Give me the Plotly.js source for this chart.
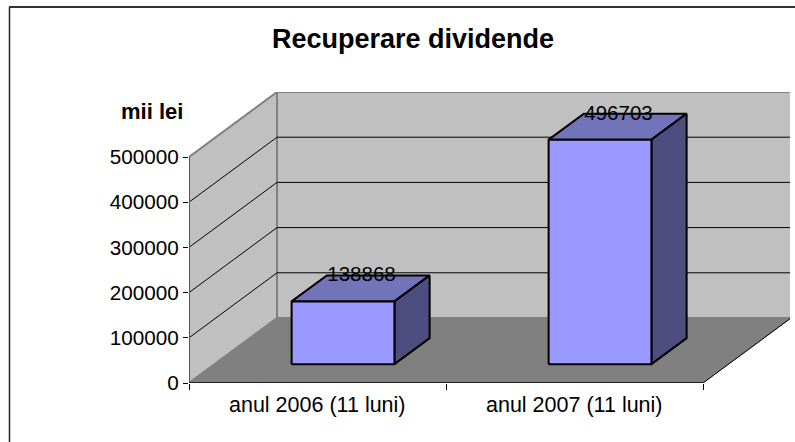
<!DOCTYPE html>
<html><head><meta charset="utf-8">
<script src="https://cdn.plot.ly/plotly-3.0.1.min.js"></script>
<style>html,body{margin:0;padding:0;background:#fff}</style></head>
<body><div id="c" style="width:795px;height:442px"></div>
<script>
// Data
const categories = ['anul 2006 (11 luni)', 'anul 2007 (11 luni)'];
const values = [138868, 496703];
const yTicks = [0, 100000, 200000, 300000, 400000, 500000];
const chartTitle = 'Recuperare dividende';
const unitLabel = 'mii lei';

// Oblique projection expressed in axis units
const W = 795, H = 442;
const px = {l: 189, r: 790, t: 92, b: 383, floorR: 703, backL: 277, backB: 318};
const unitsPerPxX = 2 / (px.floorR - px.l);
const unitsPerPxY = 500000 / (px.b - 157);
const depthX = (px.backL - px.l) * unitsPerPxX;
const depthY = (px.b - px.backB) * unitsPerPxY;
const xMax = (px.r - px.l) * unitsPerPxX;
const yMax = (px.b - px.t) * unitsPerPxY;
const wallTop = 500000;
const FONT = 'Liberation Sans, Arial, sans-serif';
const P = (c, v, d) => [c + d * depthX, v + d * depthY];
function poly(pts, fill, lineColor, lineWidth) {
  const xy = pts.concat([pts[0]]);
  return {type:'scatter', mode:'lines', x:xy.map(p=>p[0]), y:xy.map(p=>p[1]), fill:'toself',
    fillcolor:fill, line:{color:lineColor, width:lineWidth}, hoverinfo:'skip', showlegend:false, cliponaxis:false};
}
function seg(a, b, color, width) {
  return {type:'scatter', mode:'lines', x:[a[0],b[0]], y:[a[1],b[1]], line:{color, width},
    hoverinfo:'skip', showlegend:false, cliponaxis:false};
}
const traces = [];
// side wall, back wall, floor
traces.push(poly([P(0,0,0),P(0,wallTop,0),P(0,wallTop,1),P(0,0,1)], '#c0c0c0', '#808080', 2));
traces.push(poly([P(0,0,1),P(0,wallTop,1),P(2,wallTop,1),P(2,0,1)], '#c0c0c0', '#808080', 2));
// gridlines
yTicks.slice(1,-1).forEach(v=>{
  traces.push(seg(P(0,v,0),P(0,v,1),'#000',1));
  traces.push(seg(P(0,v,1),P(2,v,1),'#000',1));
});
traces.push(poly([P(0,0,0),P(2,0,0),P(2,0,1),P(0,0,1)], '#808080', '#808080', 1));
traces.push(seg(P(2,0,0),P(2,0,1),'#000',1));
// bars
const barW = 0.4, d0 = 0.29, d1 = 0.69;
values.forEach((v,i)=>{
  const a = i + 0.5 - barW/2, b = a + barW;
  const ln = '#000', lw = 2;
  traces.push(poly([P(a,v,d0),P(a,v,d1),P(b,v,d1),P(b,v,d0)], '#7373b9', ln, lw));
  traces.push(poly([P(b,0,d0),P(b,v,d0),P(b,v,d1),P(b,0,d1)], '#4d4d7f', ln, lw));
  traces.push(poly([P(a,0,d0),P(a,v,d0),P(b,v,d0),P(b,0,d0)], '#9999ff', ln, lw));
});
// axes lines
traces.push(seg(P(0,0,0),P(0,wallTop,0),'#555',2));
traces.push(seg(P(0,0,0),P(2,0,0),'#222',2));
// data labels
traces.push({type:'scatter', mode:'text', showlegend:false, hoverinfo:'skip', cliponaxis:false,
  x: values.map((v,i)=>P(i+0.5,v,0.5)[0]),
  y: values.map((v,i)=>P(i+0.5,v,0.52)[1]),
  text: values.map(String),
  textposition:'top center',
  textfont:{family:FONT, size:20.5, color:'#000'}});
const layout = {
  width:W, height:H, showlegend:false, paper_bgcolor:'#fff', plot_bgcolor:'rgba(0,0,0,0)',
  margin:{l:0,r:0,t:0,b:0},
  xaxis:{domain:[px.l/W, px.r/W], range:[0,xMax], showgrid:false, zeroline:false, showline:false,
    tickmode:'array', tickvals:[0,1,2], ticktext:['','',''], ticks:'outside', ticklen:6, tickcolor:'#000', tickwidth:1},
  yaxis:{domain:[1-px.b/H, 1-px.t/H], range:[0,yMax], showgrid:false, zeroline:false, showline:false,
    tickmode:'array', tickvals:yTicks, ticktext:yTicks.map(String), ticks:'outside', ticklen:5, tickcolor:'#000', tickwidth:1,
    tickfont:{family:FONT, size:20.7, color:'#000'}},
  annotations:[
    {text:'<b>'+chartTitle+'</b>', xref:'paper', yref:'paper', x:412.5/W, y:1-39/H, showarrow:false, xanchor:'center', yanchor:'middle',
      font:{family:FONT, size:27, color:'#000'}},
    {text:'<b>'+unitLabel+'</b>', xref:'paper', yref:'paper', x:152/W, y:1-111/H, showarrow:false, xanchor:'center', yanchor:'middle',
      font:{family:FONT, size:22, color:'#000'}},
    ...categories.map((c,i)=>({text:c, xref:'x', yref:'paper', x:i+0.5, y:1-405/H, showarrow:false, xanchor:'center', yanchor:'middle',
      font:{family:FONT, size:21.5, color:'#000'}}))
  ],
  shapes:[
    {type:'line', xref:'paper', yref:'paper', x0:9.5/W, x1:9.5/W, y0:0, y1:1-7/H, line:{color:'#222',width:1.5}},
    {type:'line', xref:'paper', yref:'paper', x0:9/W, x1:1, y0:1-7/H, y1:1-7/H, line:{color:'#333',width:2}}
  ]
};
Plotly.newPlot('c', traces, layout, {displayModeBar:false, staticPlot:true});
</script></body></html>
